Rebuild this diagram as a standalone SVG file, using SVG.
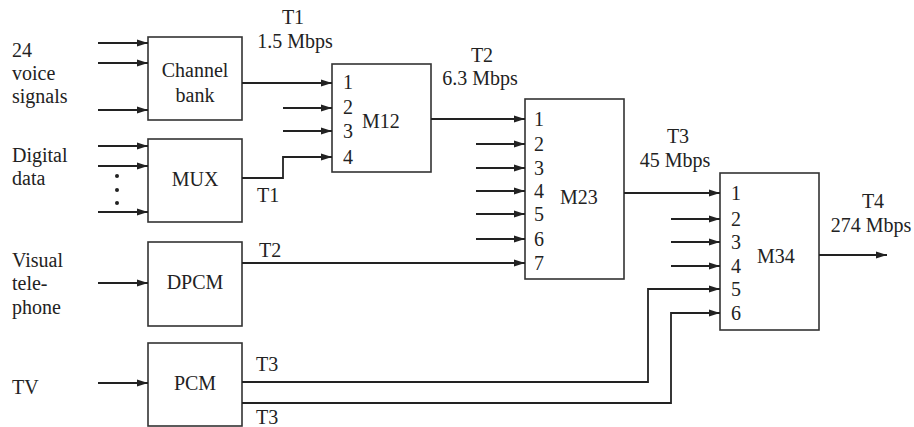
<svg xmlns="http://www.w3.org/2000/svg" width="914" height="427" viewBox="0 0 914 427">
<style>
text{font-size:20px;fill:#222}
.c{text-anchor:middle}
.box{fill:#fff;stroke:#333;stroke-width:1.6}
.ar{fill:none;stroke:#222;stroke-width:1.8;marker-end:url(#ah)}
</style>
<defs>
<marker id="ah" markerUnits="userSpaceOnUse" markerWidth="11" markerHeight="8" refX="11" refY="4" orient="auto">
<path d="M0,0.5 L11,4 L0,7.5 z" fill="#222"/>
</marker>
</defs>
<rect width="914" height="427" fill="#fff"/>
<g font-family="'Liberation Serif', 'DejaVu Serif', serif">
<g id="labels">
<text x="12" y="57">24</text>
<text x="12" y="80">voice</text>
<text x="12" y="103">signals</text>
<text x="12" y="162">Digital</text>
<text x="12" y="185">data</text>
<text x="12" y="267">Visual</text>
<text x="12" y="290">tele-</text>
<text x="12" y="314">phone</text>
<text x="12" y="394">TV</text>
<text class="c" x="293" y="24">T1</text>
<text class="c" x="295" y="48">1.5 Mbps</text>
<text class="c" x="482" y="62">T2</text>
<text class="c" x="480" y="85">6.3 Mbps</text>
<text class="c" x="678" y="143">T3</text>
<text class="c" x="675" y="167">45 Mbps</text>
<text class="c" x="873" y="208">T4</text>
<text class="c" x="871" y="232">274 Mbps</text>
<text x="257" y="202">T1</text>
<text x="259" y="257">T2</text>
<text x="256" y="371">T3</text>
<text x="256" y="424">T3</text>
</g>
<g id="dots" fill="#222">
<circle cx="117" cy="176" r="2"/>
<circle cx="117" cy="190" r="2"/>
<circle cx="117" cy="203" r="2"/>
</g>
<g id="channel-bank">
<rect class="box" x="148" y="37" width="94" height="83"/>
<text class="c" x="195" y="77">Channel</text>
<text class="c" x="195" y="102">bank</text>
</g>
<g id="mux">
<rect class="box" x="148" y="139" width="94" height="83"/>
<text class="c" x="195" y="186">MUX</text>
</g>
<g id="dpcm">
<rect class="box" x="148" y="242" width="94" height="84"/>
<text class="c" x="195" y="289">DPCM</text>
</g>
<g id="pcm">
<rect class="box" x="148" y="343" width="94" height="83"/>
<text class="c" x="195" y="390">PCM</text>
</g>
<g id="m12">
<rect class="box" x="332" y="64" width="99" height="108"/>
<text x="343" y="89">1</text>
<text x="343" y="114">2</text>
<text x="343" y="138">3</text>
<text x="343" y="164">4</text>
<text x="362" y="128">M12</text>
</g>
<g id="m23">
<rect class="box" x="525" y="99" width="99" height="180"/>
<text x="534" y="126">1</text>
<text x="534" y="151">2</text>
<text x="534" y="175">3</text>
<text x="534" y="198">4</text>
<text x="534" y="221">5</text>
<text x="534" y="246">6</text>
<text x="534" y="270">7</text>
<text x="560" y="204">M23</text>
</g>
<g id="m34">
<rect class="box" x="720" y="173" width="99" height="157"/>
<text x="731" y="200">1</text>
<text x="731" y="226">2</text>
<text x="731" y="249">3</text>
<text x="731" y="273">4</text>
<text x="731" y="296">5</text>
<text x="731" y="320">6</text>
<text x="757" y="263">M34</text>
</g>
</g>
<g id="connectors">
<path class="ar" d="M98,43 H148"/>
<path class="ar" d="M98,63 H148"/>
<path class="ar" d="M98,110 H148"/>
<path class="ar" d="M98,146 H148"/>
<path class="ar" d="M98,166 H148"/>
<path class="ar" d="M98,212 H148"/>
<path class="ar" d="M98,283 H148"/>
<path class="ar" d="M98,383 H148"/>
<path class="ar" d="M242,83 H332"/>
<path class="ar" d="M283,108 H332"/>
<path class="ar" d="M283,131 H332"/>
<path class="ar" d="M242,178 H283 V157 H332"/>
<path class="ar" d="M431,119 H525"/>
<path class="ar" d="M476,144 H525"/>
<path class="ar" d="M476,168 H525"/>
<path class="ar" d="M476,191 H525"/>
<path class="ar" d="M476,214 H525"/>
<path class="ar" d="M476,239 H525"/>
<path class="ar" d="M242,263 H525"/>
<path class="ar" d="M624,193 H720"/>
<path class="ar" d="M671,219 H720"/>
<path class="ar" d="M671,242 H720"/>
<path class="ar" d="M671,266 H720"/>
<path class="ar" d="M242,382 H648 V289 H720"/>
<path class="ar" d="M242,403 H671 V313 H720"/>
<path class="ar" d="M819,255 H887"/>
</g>
</svg>
